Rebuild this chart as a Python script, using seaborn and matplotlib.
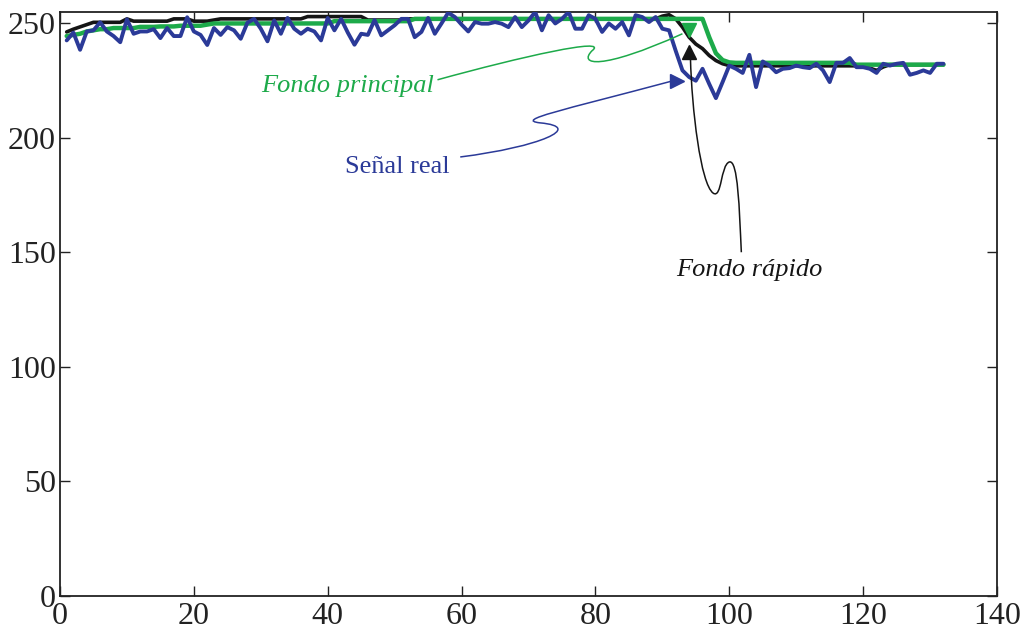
import numpy as np
import pandas as pd
import matplotlib
matplotlib.use("Agg")
import matplotlib.pyplot as plt
from matplotlib.path import Path
from matplotlib.patches import PathPatch
import seaborn as sns

# ---------------- data ----------------
senal_real = [
    242.6, 246.0, 238.5, 246.5, 247.0, 250.5, 246.5, 244.5, 241.8, 251.8,
    245.5, 246.5, 246.5, 247.5, 243.6, 248.0, 244.5, 244.5, 252.7, 246.5,
    245.0, 240.6, 248.0, 245.0, 248.4, 247.0, 243.3, 250.3, 252.0, 247.7,
    242.2, 251.3, 245.5, 252.4, 247.7, 245.5, 247.7, 246.5, 242.6, 252.4,
    247.0, 252.0, 246.0, 240.7, 245.5, 245.0, 251.5, 244.8, 247.0, 249.2,
    252.0, 252.0, 244.0, 246.3, 252.4, 245.5, 250.0, 254.7, 252.8, 249.5,
    246.5, 250.6, 249.9, 249.9, 250.6, 249.9, 248.4, 252.8, 248.4, 251.3,
    255.0, 247.0, 253.6, 250.0, 252.0, 255.0, 247.7, 247.7, 253.6, 252.0,
    246.3, 250.0, 247.7, 250.6, 244.8, 253.6, 252.8, 250.6, 252.8, 247.7,
    247.0, 238.0, 229.5, 226.6, 225.0, 230.2, 223.6, 217.4, 224.4, 231.6,
    230.2, 228.4, 236.3, 222.2, 233.4, 231.6, 228.7, 230.2, 230.5, 231.6,
    230.9, 230.5, 232.4, 229.5, 224.4, 232.8, 232.8, 234.9, 230.9, 230.9,
    230.2, 228.4, 232.4, 231.6, 232.4, 232.8, 227.6, 228.4, 229.5, 228.4,
    232.4, 232.4,
]
fondo_rapido = [
    246.3, 247.5, 248.5, 249.5, 250.5, 250.5, 250.5, 250.5, 250.5, 252.0,
    251.0, 251.0, 251.0, 251.0, 251.0, 251.0, 252.0, 252.0, 252.0, 251.0,
    251.0, 251.0, 251.5, 252.0, 252.0, 252.0, 252.0, 252.0, 252.0, 252.0,
    252.0, 252.0, 252.0, 252.0, 252.0, 252.0, 253.0, 253.0, 253.0, 253.0,
    253.0, 253.0, 253.0, 253.0, 253.0, 251.5, 251.5, 251.5, 251.5, 251.5,
    251.5, 252.0, 252.0, 252.0, 252.0, 252.0, 252.0, 252.0, 252.0, 252.0,
    252.0, 252.0, 252.0, 252.0, 252.0, 252.0, 252.0, 252.0, 252.0, 252.0,
    252.0, 252.0, 252.0, 252.0, 252.0, 252.0, 252.0, 252.0, 252.0, 252.0,
    252.0, 252.0, 252.0, 252.0, 252.0, 252.0, 252.0, 252.0, 252.0, 253.2,
    253.8, 252.0, 248.4, 244.0, 241.0, 239.0, 236.0, 233.8, 232.4, 231.6,
    231.5, 231.5, 231.5, 231.5, 231.5, 231.5, 231.5, 231.5, 231.5, 231.5,
    231.5, 231.5, 231.5, 231.5, 231.5, 231.5, 231.5, 231.5, 231.5, 231.5,
    230.5, 229.5, 231.0, 232.0, 232.0, 232.0, 232.0, 232.0, 232.0, 232.0,
    232.0, 232.0,
]
fondo_principal = [
    244.5, 245.0, 245.5, 246.5, 247.0, 247.5, 247.5, 248.0, 248.0, 248.0,
    248.0, 248.5, 248.5, 248.5, 248.7, 248.7, 248.7, 249.0, 249.0, 249.0,
    249.0, 249.5, 250.0, 250.0, 250.0, 250.0, 250.0, 250.0, 250.0, 250.0,
    250.0, 250.0, 250.0, 250.0, 250.0, 250.0, 250.0, 250.0, 250.0, 250.0,
    251.0, 251.0, 251.0, 251.0, 251.0, 251.0, 251.0, 251.0, 251.0, 251.0,
    251.0, 251.0, 252.0, 252.0, 252.0, 252.0, 252.0, 252.0, 252.0, 252.0,
    252.0, 252.0, 252.0, 252.0, 252.0, 252.0, 252.0, 252.0, 252.0, 252.0,
    252.0, 252.0, 252.0, 252.0, 252.0, 252.0, 252.0, 252.0, 252.0, 252.0,
    252.0, 252.0, 252.0, 252.0, 252.0, 252.0, 252.0, 252.0, 252.0, 252.0,
    252.0, 252.0, 252.0, 252.0, 252.0, 252.0, 244.0, 237.0, 234.0, 233.0,
    232.8, 232.8, 232.8, 232.8, 232.8, 232.8, 232.8, 232.8, 232.8, 232.8,
    232.8, 232.8, 232.8, 232.8, 232.8, 232.8, 232.8, 232.8, 232.0, 232.0,
    232.0, 232.0, 232.0, 232.0, 232.0, 232.0, 232.0, 232.0, 232.0, 232.0,
    232.0, 232.0,
]
frames = list(range(1, len(senal_real) + 1))

x_ticks = [0, 20, 40, 60, 80, 100, 120, 140]
y_ticks = [0, 50, 100, 150, 200, 250]

labels = {"principal": "Fondo principal", "real": "Señal real", "rapido": "Fondo rápido"}

BLUE = "#2B3A98"
GREEN = "#1DAA4A"
BLACK = "#151515"

# ---------------- figure ----------------
sns.set_theme(style="ticks")
plt.rcParams["font.family"] = ["Liberation Serif", "DejaVu Serif"]

fig = plt.figure(figsize=(10.28, 6.30), dpi=100)
ax = fig.add_axes([60 / 1028, 34 / 630, 937 / 1028, 584 / 630])

df = pd.DataFrame({"x": frames, "real": senal_real,
                   "rapido": fondo_rapido, "principal": fondo_principal})

sns.lineplot(data=df, x="x", y="rapido", ax=ax, color=BLACK, linewidth=2.6, zorder=2)
sns.lineplot(data=df, x="x", y="principal", ax=ax, color=GREEN, linewidth=3.2, zorder=3)
sns.lineplot(data=df, x="x", y="real", ax=ax, color=BLUE, linewidth=2.8, zorder=4)

ax.set_xlim(0, 140)
ax.set_ylim(0, 255)
ax.set_xticks(x_ticks)
ax.set_yticks(y_ticks)
ax.set_xlabel("")
ax.set_ylabel("")
for s in ax.spines.values():
    s.set_visible(True)
    s.set_linewidth(1.3)
    s.set_color("#222222")
ax.tick_params(direction="in", top=True, right=True, length=7, width=1.0,
               labelsize=23, pad=3, colors="#222222")
ax.tick_params(axis="x", pad=4)

# ---------------- annotations ----------------
def curve(points, color):
    codes = [Path.MOVETO] + [Path.CURVE4] * (len(points) - 1)
    p = Path(points, codes)
    ax.add_patch(PathPatch(p, facecolor="none", edgecolor=color, lw=1.1, zorder=5))

# Fondo principal
curve([(56.4, 225.4), (68.8, 235.4), (82.2, 244.2), (79.5, 238.1),
       (77.4, 231.9), (80.7, 229.3), (93.0, 245.5)], GREEN)
ax.plot([94.0], [247.3], marker="v", markersize=10, color=GREEN, zorder=6)
ax.text(43.0, 222.8, labels["principal"], color=GREEN, fontsize=19,
        style="italic", ha="center", va="center")

# Señal real
curve([(59.8, 191.7), (71.7, 196.1), (78.5, 204.8), (71.7, 206.6),
       (68.0, 207.9), (74.7, 211.8), (91.5, 224.9)], BLUE)
ax.plot([92.2], [224.9], marker=">", markersize=10, color=BLUE, zorder=6)
ax.text(50.4, 187.3, labels["real"], color=BLUE, fontsize=19,
        ha="center", va="center")

# Fondo rápido
curve([(101.8, 150.1), (101.5, 168.9), (101.3, 190.8), (100.0, 189.5),
       (98.7, 188.2), (98.9, 173.3), (97.6, 175.9),
       (95.7, 179.9), (94.4, 212.7), (94.2, 234.6)], BLACK)
ax.plot([94.0], [237.6], marker="^", markersize=10, color=BLACK, zorder=6)
ax.text(103.0, 142.2, labels["rapido"], color=BLACK, fontsize=19,
        style="italic", ha="center", va="center")

fig.savefig("out.png", dpi=100)
